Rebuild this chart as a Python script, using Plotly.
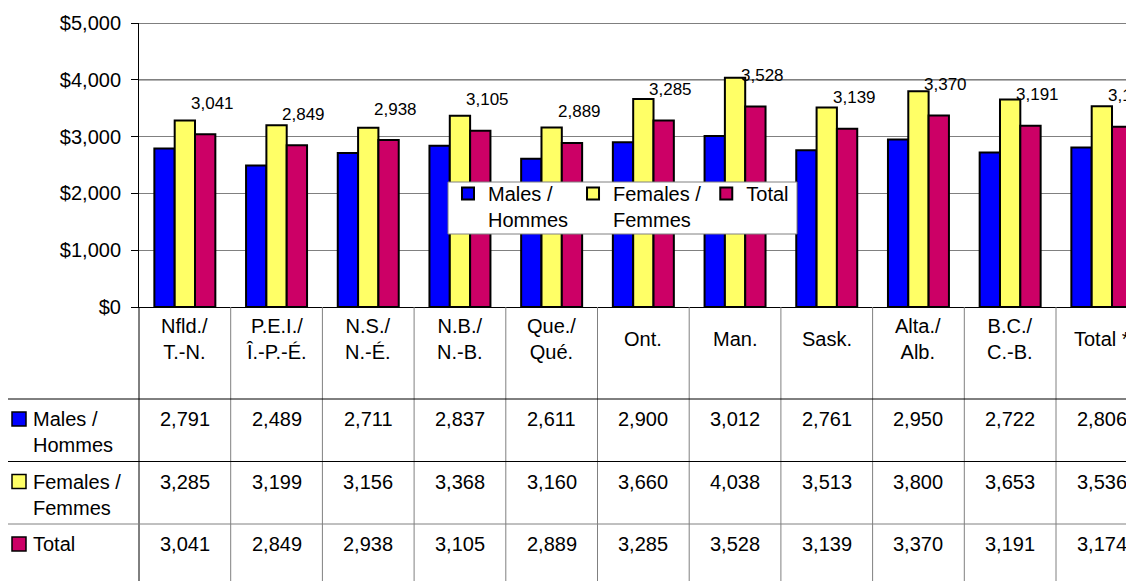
import plotly.graph_objects as go

# ---------------- data ----------------
categories = ["Nfld./<br>T.-N.", "P.E.I./<br>Î.-P.-É.", "N.S./<br>N.-É.", "N.B./<br>N.-B.",
              "Que./<br>Qué.", "Ont.", "Man.", "Sask.", "Alta./<br>Alb.", "B.C./<br>C.-B.", "Total *"]
males = [2791, 2489, 2711, 2837, 2611, 2900, 3012, 2761, 2950, 2722, 2806]
females = [3285, 3199, 3156, 3368, 3160, 3660, 4038, 3513, 3800, 3653, 3536]
total = [3041, 2849, 2938, 3105, 2889, 3285, 3528, 3139, 3370, 3191, 3174]
series_names = ["Males /<br>Hommes", "Females /<br>Femmes", "Total"]
y_ticks = [0, 1000, 2000, 3000, 4000, 5000]
y_tick_text = [f"${v:,}" for v in y_ticks]

# ---------------- style / layout ----------------
colors = ["#0000FF", "#FFFF66", "#CC0066"]
FONT = "Arial, Liberation Sans, sans-serif"
OFF = 8                          # page body margin of the browser
W, H = 1134 - OFF, 581 - OFF
# plot area edges in page pixels
L_PAGE, T_PAGE, B_PAGE = 139, 23, 307
L, T, B = L_PAGE - OFF, T_PAGE - OFF, B_PAGE - OFF
COLW = 91.7                      # pixel width of one category
X0 = -0.5
X1 = X0 + (W - L) / COLW         # last category is cut by the page edge


def py(p):  # page pixel y -> paper y
    return (B - (p - OFF)) / (B - T)


def px(p):  # page pixel x -> paper x
    return ((p - OFF) - L) / (W - L)


def xd(d):  # data x -> paper x
    return (d - X0) / (X1 - X0)


fig = go.Figure()
xs = list(range(len(categories)))
for name, vals, col in zip(series_names, [males, females, total], colors):
    fig.add_trace(go.Bar(
        x=xs, y=vals, name=name,
        marker=dict(color=col, line=dict(color="black", width=2)),
        hoverinfo="x+y",
    ))

shapes = []
ann = []

# black upper gridlines
for v in y_ticks[-2:]:
    shapes.append(dict(type="line", xref="paper", yref="y", x0=0, x1=1, y0=v, y1=v,
                       line=dict(color="black", width=1), layer="below"))

# data labels above the Total bars
for i, v in enumerate(total):
    ann.append(dict(x=i + 0.222, y=v, xref="x", yref="y", text=f"{v:,}", showarrow=False,
                    xshift=7, yshift=31, font=dict(size=17, color="black", family=FONT)))

# legend frame
shapes.append(dict(type="rect", xref="paper", yref="paper", x0=px(448), x1=px(797),
                   y0=py(182), y1=py(234), fillcolor="white",
                   line=dict(color="#808080", width=1), layer="above"))

# ---- data table ----
row_tops = [399, 461.5, 524]
bottom = 600
# header labels
for i, c in enumerate(categories):
    ann.append(dict(x=i, y=py(338.5), xref="x", yref="paper", text=c, showarrow=False,
                    yanchor="middle", xanchor="center",
                    font=dict(size=20, color="black", family=FONT)))
# values
for r, vals in enumerate([males, females, total]):
    for i, v in enumerate(vals):
        ann.append(dict(x=i, y=py(row_tops[r] + 7), xref="x", yref="paper", text=f"{v:,}",
                        showarrow=False, yanchor="top", xanchor="center",
                        font=dict(size=20, color="black", family=FONT)))
    # row header
    ann.append(dict(x=px(31), y=py(row_tops[r] + 7), xref="paper", yref="paper",
                    text=series_names[r], showarrow=False, yanchor="top", xanchor="left",
                    align="left", font=dict(size=20, color="black", family=FONT)))
    cy = row_tops[r] + 20
    shapes.append(dict(type="rect", xref="paper", yref="paper", x0=px(12), x1=px(26),
                       y0=py(cy - 7), y1=py(cy + 7), fillcolor=colors[r],
                       line=dict(color="black", width=1.5)))

# vertical separators
for i in range(len(categories) - 1):
    xx = xd(i + 0.5)
    shapes.append(dict(type="line", xref="paper", yref="paper", x0=xx, x1=xx,
                       y0=0, y1=py(bottom), line=dict(color="#808080", width=1)))
shapes.append(dict(type="line", xref="paper", yref="paper", x0=0, x1=0,
                   y0=0, y1=py(bottom), line=dict(color="black", width=1)))
shapes.append(dict(type="line", xref="paper", yref="paper", x0=px(7.5), x1=px(7.5),
                   y0=py(row_tops[0]), y1=py(bottom), line=dict(color="#404040", width=1)))
# horizontal separators
for k, yy in enumerate(row_tops):
    shapes.append(dict(type="line", xref="paper", yref="paper", x0=px(7.5), x1=1,
                       y0=py(yy), y1=py(yy),
                       line=dict(color="black" if k < 2 else "#808080", width=1)))

fig.update_layout(
    width=W, height=H,
    margin=dict(l=L, r=0, t=T, b=H - B, pad=0),
    paper_bgcolor="white", plot_bgcolor="white",
    barmode="group", bargap=0.335, bargroupgap=0,
    font=dict(family=FONT, size=20, color="black"),
    xaxis=dict(range=[X0, X1], showticklabels=False, showgrid=False, zeroline=False,
               showline=True, linecolor="black", linewidth=1, ticks=""),
    yaxis=dict(range=[0, 5000], tickvals=y_ticks, ticktext=y_tick_text,
               showgrid=True, gridcolor="#808080", gridwidth=1, zeroline=False,
               showline=True, linecolor="black", linewidth=1,
               ticks="outside", ticklen=7, tickcolor="black", ticklabelstandoff=6,
               tickfont=dict(size=20, family=FONT, color="black")),
    legend=dict(orientation="h", x=px(448), y=py(174), xanchor="left", yanchor="top",
                bgcolor="rgba(0,0,0,0)", borderwidth=0,
                valign="top", font=dict(size=20, family=FONT, color="black"),
                traceorder="normal"),
    shapes=shapes, annotations=ann,
    showlegend=True,
)

fig.write_html("out.html")
